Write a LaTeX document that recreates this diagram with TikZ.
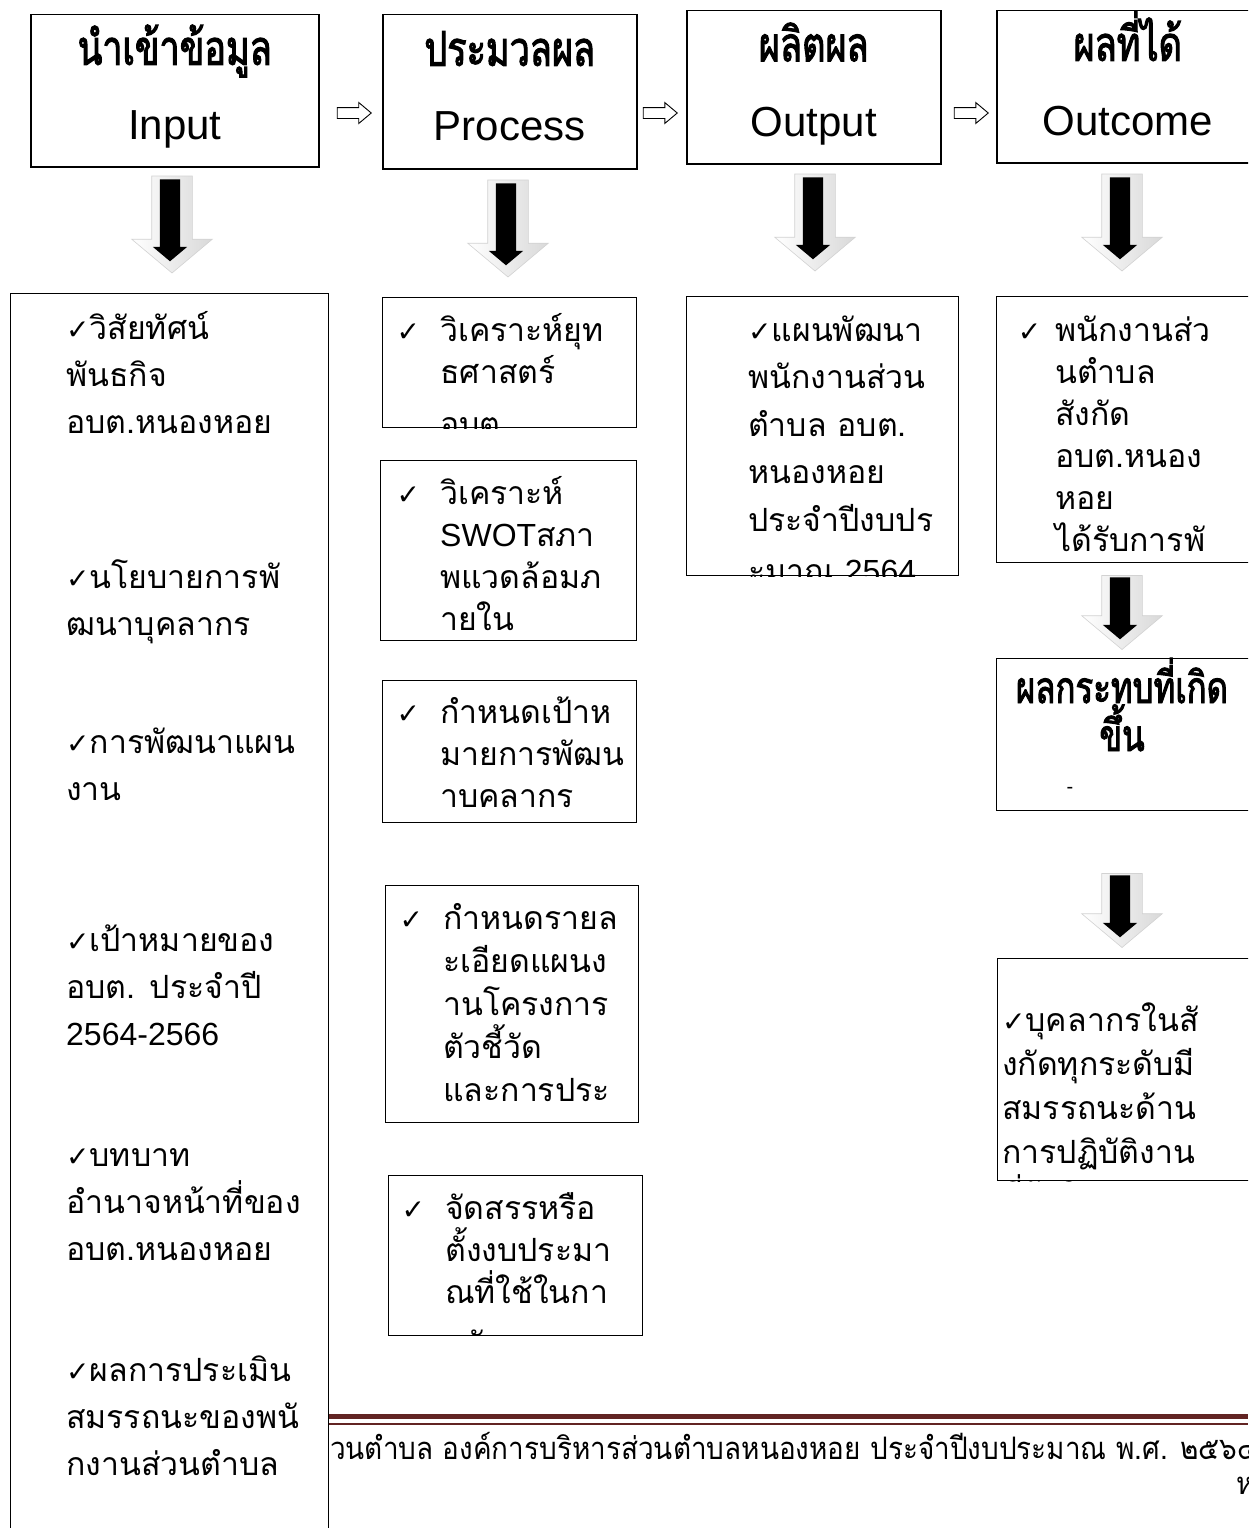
\documentclass[tikz,border=0pt]{standalone}
\usepackage{fontspec}
\usetikzlibrary{shapes.arrows}
\setmainfont{Liberation Sans}
\newfontfamily\thfont[Script=Thai]{Loma}
\newfontfamily\thhead[Script=Thai,FakeStretch=0.75,FakeBold=2.2]{Loma}
\newfontfamily\thfoot[Script=Thai,FakeStretch=0.9]{Loma}
\newfontfamily\symfont{DejaVu Sans}
\definecolor{footred}{HTML}{622423}
\newcommand\chk{{\symfont\bfseries\fontsize{28}{28}\selectfont ✓}}
\newcommand\lat[1]{{\normalfont #1}}
\tikzset{
  headbox/.style ={rectangle, draw, line width=1.5pt, fill=white, anchor=north west,
                   align=center, inner sep=0pt, text height=107pt, text depth=9pt,
                   font=\fontsize{42}{75}\selectfont},
  listbox/.style ={rectangle, draw, line width=1.4pt, fill=white, anchor=north west, inner sep=0pt},
  listtxt/.style ={anchor=base west, align=left, inner sep=0pt, font=\fontsize{32}{#1}\selectfont\thfont},
  listtxt/.default=42,
  flowarr/.style ={single arrow, draw, fill=white, line width=0.9pt, minimum height=34pt,
                   inner xsep=0pt, inner ysep=5pt, single arrow head extend=5pt, single arrow tip angle=80},
  bigarr/.style  ={single arrow, rotate=-90, draw=gray!35, left color=white, right color=gray!30,
                   line width=0.6pt, inner xsep=0pt, inner ysep=20pt, single arrow head extend=20pt,
                   single arrow tip angle=100},
  blkarr/.style  ={single arrow, rotate=-90, fill=black, inner xsep=0pt, inner ysep=10pt,
                   single arrow head extend=7pt, single arrow tip angle=100}
}
\begin{document}
\begin{tikzpicture}[x=1pt,y=-1pt]
  \useasboundingbox (0,0) rectangle (1248,1528);
  \clip (0,0) rectangle (1248,1528);
  \fill[white] (0,0) rectangle (1248,1528);

  % top row
  \node[headbox,minimum width=288pt,minimum height=152pt] (inp) at (30,14) {{\thhead\fontsize{48}{75}\selectfont นำเข้าข้อมูล}\\Input};
  \node[headbox,minimum width=254pt,minimum height=154pt] (proc) at (382,14) {{\thhead\fontsize{48}{75}\selectfont ประมวลผล}\\Process};
  \node[headbox,minimum width=254pt,minimum height=153pt] (outp) at (686,10) {{\thhead\fontsize{48}{75}\selectfont ผลิตผล}\\Output};
  \node[headbox,minimum width=262pt,minimum height=152pt] (outc) at (996,10) {{\thhead\fontsize{48}{75}\selectfont ผลที่ได้}\\Outcome};
  \node[flowarr] (f1) at (351,113) {};
  \node[flowarr] (f2) at (657,113) {};
  \node[flowarr] (f3) at (968,113) {};

  % down arrows
  \node[bigarr,minimum height=97pt] (g1) at (172,216) {};
  \node[blkarr,minimum height=82pt] (b1) at (170,216) {};
  \node[bigarr,minimum height=97pt] (g2) at (508,220) {};
  \node[blkarr,minimum height=82pt] (b2) at (506,220) {};
  \node[bigarr,minimum height=97pt] (g3) at (815,214) {};
  \node[blkarr,minimum height=82pt] (b3) at (813,214) {};
  \node[bigarr,minimum height=97pt] (g4) at (1122,214) {};
  \node[blkarr,minimum height=82pt] (b4) at (1120,214) {};
  \node[bigarr,minimum height=74pt] (g5) at (1122,604) {};
  \node[blkarr,minimum height=62pt] (b5) at (1120,604) {};
  \node[bigarr,minimum height=74pt] (g6) at (1122,902) {};
  \node[blkarr,minimum height=62pt] (b6) at (1120,902) {};

  % footer
  \coordinate (fl1) at (328,1416); \coordinate (fr1) at (1248,1416);
  \coordinate (fl2) at (328,1424); \coordinate (fr2) at (1248,1424);
  \draw[footred,line width=5pt] (fl1) -- (fr1);
  \draw[footred,line width=1.5pt] (fl2) -- (fr2);
  \node[anchor=west,inner sep=0pt,font=\fontsize{31}{31}\selectfont\thfoot] (foot) at (330,1446) {วนตำบล องค์การบริหารส่วนตำบลหนองหอย ประจำปีงบประมาณ พ.ศ. ๒๕๖๔};
  \node[anchor=west,inner sep=0pt,font=\fontsize{31}{31}\selectfont\thfoot] (page) at (1236,1486) {ห};

  % input column
  \node[listbox,minimum width=318pt,minimum height=1250pt] (inl) at (10,293) {};
  \node[listtxt=47] (i1) at (66,433) {\chk วิสัยทัศน์\\พันธกิจ\\อบต.หนองหอย};
  \node[listtxt=47] (i2) at (66,635) {\chk นโยบายการพั\\ฒนาบุคลากร};
  \node[listtxt=47] (i3) at (66,800) {\chk การพัฒนาแผน\\งาน};
  \node[listtxt=47] (i4) at (66,1045) {\chk เป้าหมายของ\\อบต. ประจำปี\\\lat{2564-2566}};
  \node[listtxt=47] (i5) at (66,1260) {\chk บทบาท\\อำนาจหน้าที่ของ\\อบต.หนองหอย};
  \node[listtxt=47] (i6) at (66,1475) {\chk ผลการประเมิน\\สมรรถนะของพนั\\กงานส่วนตำบล};

  % process column
  \node[listbox,minimum width=254pt,minimum height=130pt] (p1) at (382,297) {};
  \begin{scope}
    \clip (p1.south west) rectangle (p1.north east);
    \node[listtxt] (p1t) at (440,435) {\llap{\chk\hspace{20pt}}วิเคราะห์ยุท\\ธศาสตร์\\[10pt]อบต.};
  \end{scope}
  \node[listbox,minimum width=256pt,minimum height=180pt] (p2) at (380,460) {};
  \begin{scope}
    \clip (p2.south west) rectangle (p2.north east);
    \node[listtxt] (p2t) at (440,630) {\llap{\chk\hspace{20pt}}วิเคราะห์\\\lat{SWOT}สภา\\พแวดล้อมภ\\ายใน};
  \end{scope}
  \node[listbox,minimum width=254pt,minimum height=142pt] (p3) at (382,680) {};
  \begin{scope}
    \clip (p3.south west) rectangle (p3.north east);
    \node[listtxt] (p3t) at (440,807) {\llap{\chk\hspace{20pt}}กำหนดเป้าห\\มายการพัฒน\\าบคลากร};
  \end{scope}
  \node[listbox,minimum width=253pt,minimum height=237pt] (p4) at (385,885) {};
  \begin{scope}
    \clip (p4.south west) rectangle (p4.north east);
    \node[listtxt=43] (p4t) at (443,1101) {\llap{\chk\hspace{20pt}}กำหนดรายล\\ะเอียดแผนง\\านโครงการ\\ตัวชี้วัด\\และการประ};
  \end{scope}
  \node[listbox,minimum width=254pt,minimum height=160pt] (p5) at (388,1175) {};
  \begin{scope}
    \clip (p5.south west) rectangle (p5.north east);
    \node[listtxt] (p5t) at (445,1355) {\llap{\chk\hspace{20pt}}จัดสรรหรือ\\ตั้งงบประมา\\ณที่ใช้ในกา\\[10pt]รพัฒนา};
  \end{scope}

  % output column
  \node[listbox,minimum width=272pt,minimum height=279pt] (o1) at (686,296) {};
  \begin{scope}
    \clip (o1.south west) rectangle (o1.north east);
    \node[listtxt=47.5] (o1t) at (748,582.5) {\chk แผนพัฒนา\\พนักงานส่วน\\ตำบล อบต.\\หนองหอย\\ประจำปีงบปร\\[4pt]ะมาณ \lat{2564}};
  \end{scope}

  % outcome column
  \node[listbox,minimum width=262pt,minimum height=266pt] (c1) at (996,296) {};
  \begin{scope}
    \clip (c1.south west) rectangle (c1.north east);
    \node[listtxt] (c1t) at (1055,551) {\llap{\chk\hspace{14pt}}พนักงานส่ว\\นตำบล\\สังกัด\\อบต.หนอง\\หอย\\ได้รับการพั};
  \end{scope}
  \node[listbox,minimum width=262pt,minimum height=152pt] (c2) at (996,658) {};
  \node[anchor=base,align=center,inner sep=0pt,font=\fontsize{44}{48}\selectfont\thhead] (c2t) at (1122,751) {ผลกระทบที่เกิด\\ขึ้น};
  \node[inner sep=0pt,font=\fontsize{20}{20}\selectfont] (c2d) at (1070,790) {-};
  \node[listbox,minimum width=262pt,minimum height=222pt] (c3) at (997,958) {};
  \begin{scope}
    \clip (c3.south west) rectangle (c3.north east);
    \node[listtxt=44] (c3t) at (1002,1207) {\chk บุคลากรในสั\\งกัดทุกระดับมี\\สมรรถนะด้าน\\การปฏิบัติงาน\\ที่รับผิดชอบ};
  \end{scope}
\end{tikzpicture}
\end{document}
